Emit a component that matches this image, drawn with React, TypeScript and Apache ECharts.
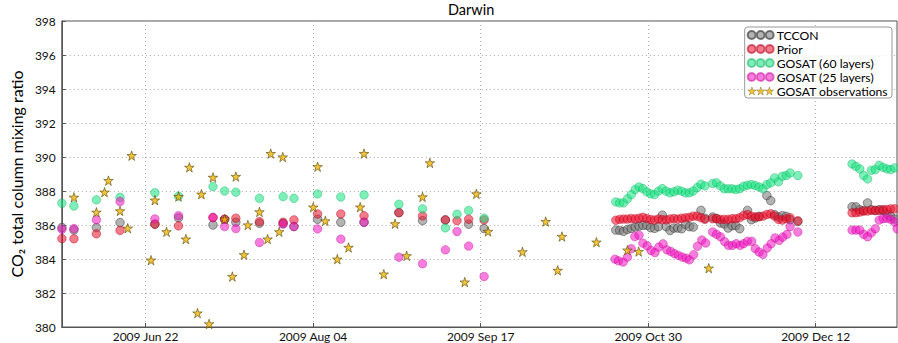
import { useEffect, useRef } from "react";
import * as echarts from "echarts";

// x values are days of year 2009 (Jan 1 = 1)
const xTickValues = [173, 216.25, 259.5, 302.75, 346];
const xTickLabels = ["2009 Jun 22", "2009 Aug 04", "2009 Sep 17", "2009 Oct 30", "2009 Dec 12"];
const xMin = 151.36;
const xMax = 367.0;
const yMin = 380;
const yMax = 398;
const yStep = 2;

const seriesNames = ["TCCON", "Prior", "GOSAT (60 layers)", "GOSAT (25 layers)", "GOSAT observations"];

const tccon: number[][] = [
  [151.4, 385.85], [154.5, 385.71], [160.3, 385.85], [166.4, 386.14], [175.4, 386.05], [181.5, 386.42],
  [190.4, 386.0], [193.4, 386.34], [196.3, 386.16], [202.4, 386.1], [208.5, 386.1], [211.3, 385.91],
  [217.4, 386.34], [223.4, 386.16], [229.4, 386.16], [238.4, 386.73], [244.5, 386.26], [250.4, 386.3],
  [256.4, 386.05], [260.4, 385.79],
  [294.4, 385.7], [295.4, 385.68], [296.4, 385.63], [297.4, 385.74], [298.4, 385.8], [299.4, 385.88],
  [300.4, 385.94], [301.4, 385.98], [302.4, 385.98], [303.4, 385.84], [304.4, 385.8], [305.4, 385.9],
  [306.4, 386.58], [307.4, 385.9], [308.4, 385.68], [309.4, 385.82], [310.4, 385.82], [311.4, 385.78],
  [312.4, 386.04], [313.4, 385.9], [314.4, 385.88], [316.4, 386.86], [317.4, 386.4], [319.4, 386.47],
  [320.4, 386.39], [321.4, 386.12], [322.4, 386.06], [323.4, 385.82], [324.4, 385.96], [325.4, 385.96],
  [326.4, 385.78], [328.4, 386.86], [329.4, 386.31], [330.4, 386.41], [331.4, 386.51], [333.4, 387.73],
  [334.4, 387.43], [335.4, 386.61], [336.4, 386.47], [337.4, 386.55], [338.4, 386.51], [339.4, 386.31],
  [341.4, 386.2],
  [355.4, 387.07], [356.4, 387.07], [357.4, 386.9], [358.4, 386.85], [359.4, 387.3], [360.4, 386.9],
  [361.4, 386.85], [362.4, 386.9], [363.4, 386.85], [364.4, 386.65], [365.4, 386.5], [366.4, 386.35],
];

const prior: number[][] = [
  [151.4, 385.2], [154.5, 385.19], [160.3, 385.48], [166.4, 385.68], [175.4, 386.05], [181.5, 385.95],
  [190.4, 386.44], [193.4, 386.34], [196.3, 386.4], [202.4, 386.2], [208.5, 386.16], [211.3, 386.3],
  [217.4, 386.65], [223.4, 386.65], [229.4, 386.54], [238.4, 386.73], [244.5, 386.54], [250.4, 386.3],
  [253.4, 386.26], [256.4, 386.34], [260.4, 386.3],
  [294.4, 386.28], [295.4, 386.33], [296.4, 386.35], [297.4, 386.35], [298.4, 386.38], [299.4, 386.36],
  [300.4, 386.4], [301.4, 386.45], [302.4, 386.38], [303.4, 386.32], [304.4, 386.3], [305.4, 386.35],
  [306.4, 386.32], [307.4, 386.3], [308.4, 386.35], [309.4, 386.38], [310.4, 386.35], [311.4, 386.4],
  [312.4, 386.42], [313.4, 386.45], [314.4, 386.52], [315.4, 386.52], [316.4, 386.43], [317.4, 386.33],
  [319.4, 386.37], [320.4, 386.37], [321.4, 386.33], [322.4, 386.33], [323.4, 386.33], [324.4, 386.37],
  [325.4, 386.37], [326.4, 386.43], [327.4, 386.56], [328.4, 386.62], [329.4, 386.52], [330.4, 386.48],
  [331.4, 386.48], [332.4, 386.52], [333.4, 386.62], [334.4, 386.66], [335.4, 386.52], [336.4, 386.33],
  [337.4, 386.29], [338.4, 386.37], [339.4, 386.43], [341.4, 386.25],
  [355.4, 386.72], [356.4, 386.72], [357.4, 386.76], [358.4, 386.82], [359.4, 386.82], [360.4, 386.86],
  [361.4, 386.86], [362.4, 386.86], [363.4, 386.91], [364.4, 386.91], [365.4, 386.95], [366.4, 386.95],
];

const gosat60: number[][] = [
  [151.4, 387.28], [154.5, 387.12], [160.3, 387.48], [166.4, 387.63], [175.4, 387.9], [181.5, 387.7],
  [190.4, 388.26], [193.4, 388.0], [196.3, 387.93], [202.4, 387.57], [208.5, 387.67], [211.3, 387.57],
  [217.4, 387.83], [223.4, 387.65], [229.4, 387.77], [238.4, 387.22], [244.5, 386.95], [250.4, 385.83],
  [253.4, 386.63], [256.4, 386.85], [260.4, 386.4],
  [294.4, 387.36], [295.4, 387.3], [296.4, 387.3], [297.4, 387.54], [298.4, 387.79], [299.4, 388.09],
  [300.4, 388.24], [301.4, 388.14], [302.4, 387.95], [303.4, 387.83], [304.4, 387.79], [305.4, 387.99],
  [306.4, 388.14], [307.4, 387.99], [308.4, 387.89], [309.4, 387.95], [310.4, 388.05], [311.4, 387.99],
  [312.4, 387.89], [313.4, 387.89], [314.4, 388.0], [315.4, 388.2], [316.4, 388.4], [317.4, 388.3],
  [319.4, 388.44], [320.4, 388.48], [321.4, 388.3], [322.4, 388.13], [323.4, 388.13], [324.4, 388.13],
  [325.4, 388.09], [326.4, 388.13], [327.4, 388.28], [328.4, 388.34], [329.4, 388.38], [330.4, 388.32],
  [331.4, 388.24], [332.4, 388.13], [333.4, 388.38], [334.4, 388.48], [335.4, 388.77], [336.4, 388.54],
  [337.4, 388.87], [338.4, 388.91], [339.4, 389.06], [341.4, 388.91],
  [355.4, 389.59], [356.4, 389.45], [357.4, 389.3], [358.4, 388.91], [359.4, 388.71], [360.4, 389.22],
  [361.4, 389.26], [362.4, 389.51], [363.4, 389.39], [364.4, 389.3], [365.4, 389.26], [366.4, 389.36],
];

const gosat25: number[][] = [
  [151.4, 385.75], [154.5, 385.79], [160.3, 386.3], [166.4, 387.38], [175.4, 386.36], [181.5, 386.55],
  [190.4, 386.44], [193.4, 385.91], [196.3, 385.79], [202.4, 384.97], [208.5, 386.05], [211.3, 385.91],
  [217.4, 385.77], [223.4, 385.17], [229.4, 386.16], [238.4, 384.11], [244.5, 383.72], [250.4, 384.54],
  [253.4, 385.62], [256.4, 384.76], [260.4, 382.97],
  [294.2, 383.99], [295.1, 383.89], [296.3, 383.82], [297.4, 384.11], [298.4, 384.6], [299.3, 385.32],
  [300.4, 385.4], [301.4, 384.93], [302.5, 384.77], [303.5, 384.5], [304.5, 384.38], [305.5, 384.7],
  [306.6, 384.89], [307.6, 384.54], [308.6, 384.44], [309.6, 384.31], [310.6, 384.21], [311.6, 384.11],
  [312.6, 384.05], [313.4, 383.95], [314.5, 384.25], [315.5, 384.75], [316.6, 385.12], [317.6, 384.94],
  [319.4, 385.59], [320.4, 385.45], [321.4, 385.31], [322.5, 385.02], [323.5, 384.8], [324.5, 384.8],
  [325.5, 384.9], [326.5, 384.8], [327.4, 384.9], [328.4, 385.04], [329.5, 385.04], [330.4, 384.61],
  [331.4, 384.41], [332.4, 384.27], [333.5, 384.65], [334.5, 384.9], [335.5, 385.24], [336.6, 385.1],
  [337.5, 385.29], [338.6, 385.45], [339.4, 385.9], [341.4, 385.59],
  [355.4, 385.7], [356.4, 385.7], [357.4, 385.7], [358.4, 385.45], [359.4, 385.31], [360.4, 385.55],
  [361.4, 385.78], [362.4, 386.29], [363.4, 386.37], [364.4, 386.39], [365.4, 386.33], [366.4, 386.17],
  [367.0, 385.78],
];

const observations: number[][] = [
  [154.5, 387.63], [160.3, 386.75], [162.4, 387.93], [163.4, 388.61], [166.4, 386.83], [168.4, 385.81],
  [169.4, 390.08], [174.4, 383.93], [175.4, 387.46], [178.4, 385.6], [181.5, 387.67], [183.4, 385.17],
  [184.3, 389.39], [186.4, 380.82], [187.4, 387.81], [189.4, 380.18], [190.4, 388.8], [193.4, 386.34],
  [195.4, 382.97], [196.3, 388.85], [198.4, 384.25], [199.4, 386.0], [202.4, 386.77], [204.5, 385.17],
  [205.3, 390.2], [207.5, 385.6], [208.4, 390.0], [216.3, 387.05], [217.4, 389.43], [219.4, 386.24],
  [222.5, 383.99], [225.4, 384.68], [228.4, 387.05], [229.4, 390.2], [234.5, 383.11], [237.4, 386.07],
  [240.4, 384.19], [244.5, 387.65], [246.4, 389.65], [255.4, 382.64], [258.4, 387.83], [261.4, 385.62],
  [270.3, 384.42], [276.3, 386.2], [279.4, 383.33], [280.5, 385.32], [289.4, 384.99], [297.4, 384.52],
  [300.3, 384.44], [318.4, 383.46],
];

const FONT = "Lato, 'Open Sans', sans-serif";

function starPath(cx: number, cy: number, R: number): string {
  const pts: string[] = [];
  for (let i = 0; i < 10; i++) {
    const a = (-90 + i * 36) * (Math.PI / 180);
    const r = i % 2 === 0 ? R : R * 0.382;
    pts.push(`${(cx + r * Math.cos(a)).toFixed(3)},${(cy + r * Math.sin(a)).toFixed(3)}`);
  }
  return "M" + pts.join("L") + "Z";
}

const starSymbol = "path://" + starPath(0, 0, 10);
const circles3 =
  "path://" + [4, 13, 22].map((c) => `M${c - 4},4a4,4 0 1,0 8,0a4,4 0 1,0 -8,0Z`).join("");
const stars3 = "path://" + [4.3, 13, 21.7].map((c) => starPath(c, 4.4, 4.4)).join("");

const styles = [
  { color: "rgba(119,119,119,0.7)", border: "rgba(40,40,40,0.75)" },
  { color: "rgba(234,12,41,0.68)", border: "rgba(180,0,30,0.7)" },
  { color: "rgba(20,226,126,0.68)", border: "rgba(0,170,90,0.6)" },
  { color: "rgba(241,19,191,0.68)", border: "rgba(190,0,150,0.6)" },
];

export default function App() {
  const ref = useRef<HTMLDivElement>(null);
  useEffect(() => {
    const chart = echarts.init(ref.current!, null, { renderer: "svg" });
    const circleData = [tccon, prior, gosat60, gosat25];
    const series: any[] = circleData.map((d, i) => ({
      name: seriesNames[i],
      type: "scatter",
      data: d,
      symbol: "circle",
      symbolSize: 8.5,
      silent: true,
      clip: true,
      itemStyle: { color: styles[i].color, borderColor: styles[i].border, borderWidth: 0.8 },
      z: 2 + i,
    }));
    series.push({
      name: seriesNames[4],
      type: "scatter",
      data: observations,
      symbol: starSymbol,
      symbolSize: 9.5,
      silent: true,
      itemStyle: { color: "#F2B705", borderColor: "#4a3a00", borderWidth: 0.7 },
      z: 10,
    });

    chart.setOption({
      animation: false,
      title: {
        text: "Darwin",
        left: 448,
        top: 2,
        padding: 0,
        textStyle: { fontFamily: FONT, fontSize: 14.5, fontWeight: "normal", color: "#000" },
      },
      legend: {
        orient: "vertical",
        right: 6,
        top: 27,
        padding: [2, 4, 1, 2],
        itemGap: 2,
        itemWidth: 26,
        itemHeight: 8,
        selectedMode: false,
        backgroundColor: "rgba(255,255,255,0.85)",
        borderColor: "#999",
        borderWidth: 1,
        borderRadius: 3,
        textStyle: { fontFamily: FONT, fontSize: 12.2, color: "#000", padding: [0, 0, 0, -2] },
        data: [
          { name: seriesNames[0], icon: circles3 },
          { name: seriesNames[1], icon: circles3 },
          { name: seriesNames[2], icon: circles3 },
          { name: seriesNames[3], icon: circles3 },
          { name: seriesNames[4], icon: stars3, itemStyle: { borderWidth: 0.4, color: "#F2B705" } },
        ],
      },
      grid: {
        left: 47,
        right: 1,
        top: 21,
        bottom: 16,
        show: true,
        borderColor: "#555",
        borderWidth: 1,
        backgroundColor: "transparent",
      },
      xAxis: {
        type: "value",
        min: xMin,
        max: xMax,
        axisLine: { show: true, lineStyle: { color: "#555" } },
        axisTick: {
          show: true,
          inside: true,
          length: 4,
          customValues: xTickValues,
          lineStyle: { color: "#555" },
        },
        axisLabel: {
          customValues: xTickValues,
          margin: 3,
          fontFamily: FONT,
          fontSize: 12,
          color: "#111",
          formatter: (v: number) => {
            const idx = xTickValues.findIndex((t) => Math.abs(t - v) < 0.01);
            return idx >= 0 ? xTickLabels[idx] : "";
          },
        },
        splitLine: { show: true, lineStyle: { color: "#aaa", type: [1, 3], width: 1 } },
      },
      yAxis: {
        type: "value",
        min: yMin,
        max: yMax,
        interval: yStep,
        name: "CO₂ total column mixing ratio",
        nameLocation: "middle",
        nameGap: 26,
        nameTextStyle: { fontFamily: FONT, fontSize: 16, color: "#000" },
        axisLine: { show: true, lineStyle: { color: "#555" } },
        axisTick: { show: true, inside: true, length: 4, lineStyle: { color: "#555" } },
        axisLabel: { margin: 6, fontFamily: FONT, fontSize: 12, color: "#111" },
        splitLine: { show: true, lineStyle: { color: "#aaa", type: [1, 3], width: 1 } },
      },
      series,
    });
    return () => chart.dispose();
  }, []);
  return (
    <div
      ref={ref}
      style={{ position: "fixed", left: 0, top: 0, width: 898, height: 343, background: "#fff" }}
    />
  );
}
